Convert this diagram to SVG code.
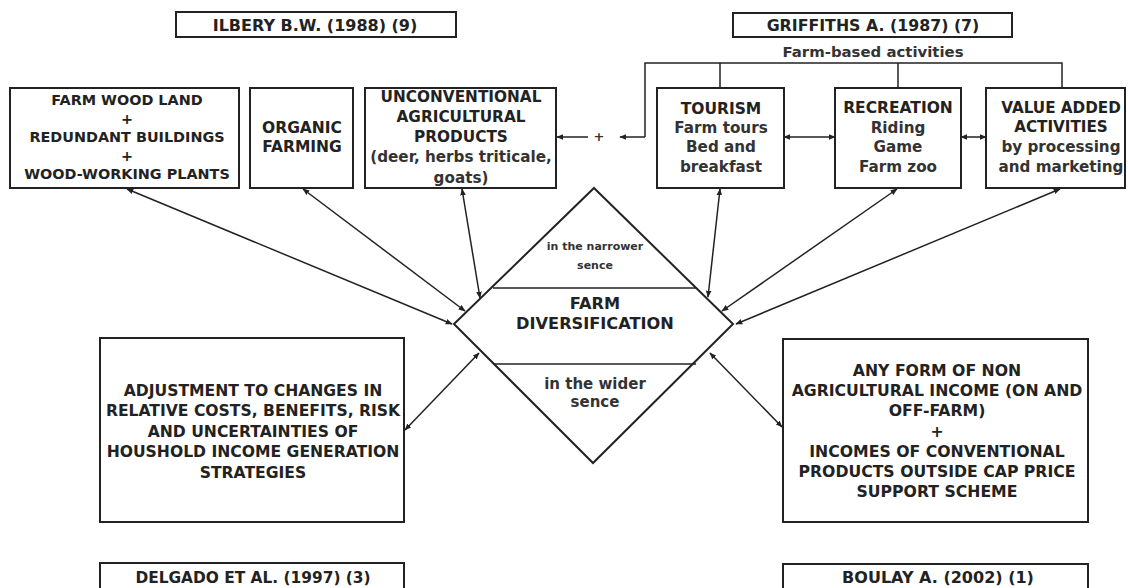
<svg xmlns="http://www.w3.org/2000/svg" width="1128" height="588" viewBox="0 0 1128 588">
<style>
.box{fill:#fff;stroke:#222;stroke-width:2}
.ln{fill:none;stroke:#222;stroke-width:1.5}
.b{font-family:"DejaVu Sans",Verdana,sans-serif;font-weight:bold;font-size:15.5px;fill:#222;text-anchor:middle}
.m{font-family:"DejaVu Sans",Verdana,sans-serif;font-weight:bold;font-size:15.2px;fill:#333;text-anchor:middle}
.s{font-family:"DejaVu Sans",Verdana,sans-serif;font-weight:bold;font-size:11px;fill:#333;text-anchor:middle}
</style>
<defs>
<marker id="ah" viewBox="0 0 10 10" refX="9" refY="5" markerWidth="7" markerHeight="7" markerUnits="userSpaceOnUse" orient="auto-start-reverse">
<path d="M0,1 L10,5 L0,9 Z" fill="#222"/>
</marker>
</defs>
<rect width="1128" height="588" fill="#fff"/>

<g id="connectors">
<path class="ln" d="M645,137 V63 H1062 V88 M720,63 V88 M898,63 V88"/>
<line class="ln" x1="645" y1="137" x2="620" y2="137" marker-end="url(#ah)"/>
<line class="ln" x1="588" y1="137" x2="557" y2="137" marker-end="url(#ah)"/>
<line class="ln" x1="784" y1="137" x2="835" y2="137" marker-start="url(#ah)" marker-end="url(#ah)"/>
<line class="ln" x1="961" y1="137" x2="986" y2="137" marker-start="url(#ah)" marker-end="url(#ah)"/>
<line class="ln" x1="127" y1="189" x2="452" y2="324" marker-start="url(#ah)" marker-end="url(#ah)"/>
<line class="ln" x1="303" y1="189" x2="465" y2="311" marker-start="url(#ah)" marker-end="url(#ah)"/>
<line class="ln" x1="462" y1="189" x2="480" y2="298" marker-start="url(#ah)" marker-end="url(#ah)"/>
<line class="ln" x1="720" y1="189" x2="708" y2="297" marker-start="url(#ah)" marker-end="url(#ah)"/>
<line class="ln" x1="897" y1="189" x2="722" y2="311" marker-start="url(#ah)" marker-end="url(#ah)"/>
<line class="ln" x1="1060" y1="189" x2="736" y2="324" marker-start="url(#ah)" marker-end="url(#ah)"/>
<line class="ln" x1="405" y1="430" x2="479" y2="353" marker-start="url(#ah)" marker-end="url(#ah)"/>
<line class="ln" x1="782" y1="427" x2="710" y2="353" marker-start="url(#ah)" marker-end="url(#ah)"/>
</g>
<text class="s" x="599" y="141" style="font-size:13px">+</text>

<g id="ilbery">
<rect class="box" x="176" y="12" width="280" height="25"/>
<text class="b" x="315" y="31" style="font-size:16px">ILBERY B.W. (1988) (9)</text>
</g>
<g id="griffiths">
<rect class="box" x="733" y="13" width="279" height="24"/>
<text class="b" x="873" y="31" style="font-size:15.8px">GRIFFITHS A. (1987) (7)</text>
<text class="m" x="873" y="57" style="font-size:14.9px">Farm-based activities</text>
</g>

<g id="farmwood">
<rect class="box" x="10" y="88" width="229" height="100"/>
<text class="b" x="127" y="105" style="font-size:14.4px">FARM WOOD LAND</text>
<text class="b" x="127" y="124" style="font-size:14.4px">+</text>
<text class="b" x="127" y="142" style="font-size:14.4px">REDUNDANT BUILDINGS</text>
<text class="b" x="127" y="161" style="font-size:14.4px">+</text>
<text class="b" x="127" y="179" style="font-size:14.4px">WOOD-WORKING PLANTS</text>
</g>
<g id="organic">
<rect class="box" x="250" y="88" width="103" height="100"/>
<text class="b" x="302" y="133">ORGANIC</text>
<text class="b" x="302" y="152">FARMING</text>
</g>
<g id="unconventional">
<rect class="box" x="365" y="88" width="191" height="100"/>
<text class="b" x="461" y="102" style="font-size:15.3px">UNCONVENTIONAL</text>
<text class="b" x="461" y="122" style="font-size:15.3px">AGRICULTURAL</text>
<text class="b" x="461" y="142" style="font-size:15.3px">PRODUCTS</text>
<text class="m" x="461" y="162">(deer, herbs triticale,</text>
<text class="m" x="461" y="183">goats)</text>
</g>
<g id="tourism">
<rect class="box" x="657" y="88" width="127" height="100"/>
<text class="b" x="721" y="114">TOURISM</text>
<text class="m" x="721" y="133">Farm tours</text>
<text class="m" x="721" y="152">Bed and</text>
<text class="m" x="721" y="172">breakfast</text>
</g>
<g id="recreation">
<rect class="box" x="835" y="88" width="126" height="100"/>
<text class="b" x="898" y="113">RECREATION</text>
<text class="m" x="898" y="133">Riding</text>
<text class="m" x="898" y="152">Game</text>
<text class="m" x="898" y="172">Farm zoo</text>
</g>
<g id="valueadded">
<rect class="box" x="986" y="88" width="139" height="100"/>
<text class="b" x="1061" y="113" style="font-size:15.2px">VALUE ADDED</text>
<text class="b" x="1061" y="132" style="font-size:15.2px">ACTIVITIES</text>
<text class="m" x="1061" y="152">by processing</text>
<text class="m" x="1061" y="172">and marketing</text>
</g>

<g id="diversification">
<path class="box" d="M594,188 L733,324 L593,463 L454,324 Z"/>
<line class="ln" x1="493" y1="288" x2="696" y2="288"/>
<line class="ln" x1="493" y1="364" x2="696" y2="364"/>
<text class="s" x="595" y="250">in the narrower</text>
<text class="s" x="595" y="269">sence</text>
<text class="b" x="595" y="309" style="font-size:16.2px">FARM</text>
<text class="b" x="595" y="329" style="font-size:16.2px">DIVERSIFICATION</text>
<text class="m" x="595" y="389" style="font-size:15px">in the wider</text>
<text class="m" x="595" y="407" style="font-size:15px">sence</text>
</g>

<g id="adjustment">
<rect class="box" x="100" y="338" width="304" height="184"/>
<text class="b" x="253" y="396" style="font-size:15.6px">ADJUSTMENT TO CHANGES IN</text>
<text class="b" x="253" y="416" style="font-size:15.6px">RELATIVE COSTS, BENEFITS, RISK</text>
<text class="b" x="253" y="437" style="font-size:15.6px">AND UNCERTAINTIES OF</text>
<text class="b" x="253" y="457" style="font-size:15.6px">HOUSHOLD INCOME GENERATION</text>
<text class="b" x="253" y="478" style="font-size:15.6px">STRATEGIES</text>
</g>
<g id="nonagri">
<rect class="box" x="783" y="339" width="305" height="183"/>
<text class="b" x="937" y="376" style="font-size:15.7px">ANY FORM OF NON</text>
<text class="b" x="937" y="396" style="font-size:15.7px">AGRICULTURAL INCOME (ON AND</text>
<text class="b" x="937" y="416" style="font-size:15.7px">OFF-FARM)</text>
<text class="b" x="937" y="437" style="font-size:15.7px">+</text>
<text class="b" x="937" y="457" style="font-size:15.7px">INCOMES OF CONVENTIONAL</text>
<text class="b" x="937" y="477" style="font-size:15.7px">PRODUCTS OUTSIDE CAP PRICE</text>
<text class="b" x="937" y="497" style="font-size:15.7px">SUPPORT SCHEME</text>
</g>

<g id="delgado">
<rect class="box" x="100" y="563" width="304" height="40"/>
<text class="b" x="253" y="583" style="font-size:15.4px">DELGADO ET AL. (1997) (3)</text>
</g>
<g id="boulay">
<rect class="box" x="783" y="564" width="305" height="40"/>
<text class="b" x="938" y="583" style="font-size:16px">BOULAY A. (2002) (1)</text>
</g>
</svg>
